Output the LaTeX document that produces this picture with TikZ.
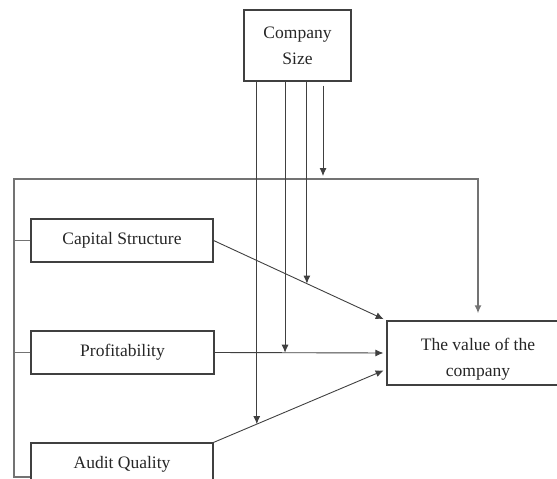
\documentclass[tikz,border=0pt]{standalone}
\usepackage{fontspec}
\setmainfont{Liberation Serif}
\usetikzlibrary{calc,arrows.meta}

\tikzset{
	varbox/.style={draw=black!75, line width=1.2pt, text=black!85, align=center, inner sep=0pt, font=\fontsize{17.5}{26}\selectfont},
	link/.style={draw=black!75, line width=0.9pt, -{Latex[length=8pt,width=7pt]}},
	frame/.style={draw=black!55, line width=1.8pt},
}

\begin{document}
\begin{tikzpicture}[x=1pt,y=-1pt]
				\useasboundingbox (0,0) rectangle (557,479);
				\clip (0,0) rectangle (557,479);
				% variables
				\node[varbox, minimum width=107pt, minimum height=71pt] (size) at (297.5,45.5) {Company\\Size};
				\node[varbox, minimum width=182pt, minimum height=43pt] (cap) at (122,240.5) {Capital Structure};
				\node[varbox, minimum width=183pt, minimum height=43pt] (prof) at (122.5,352.5) {Profitability};
				\node[varbox, minimum width=182pt, minimum height=43pt] (audit) at (122,464.5) {Audit Quality};
				\node[varbox, minimum width=182pt, minimum height=64pt] (value) at (478,353) {\rule{0pt}{24pt}The value of the\\company};
				% frame round the independent variables
				\coordinate (corner) at (14,477);
				\coordinate (topleft) at (14,179);
				\draw[frame] (cap.west) -- (cap.west -| corner);
				\draw[frame] (prof.west) -- (prof.west -| corner);
				\draw[frame, -{Latex[length=8pt,width=7pt]}, shorten >=7pt] (audit.west |- corner) -- (corner) -- (topleft) -| (value.north);
				% direct effects
				\coordinate (v3) at ($(value.west)!0.5!(value.south west)$);
				\draw[link, shorten >=3pt] (cap.east) -- (value.north west);
				\draw[link, shorten >=3pt] (prof.east) -- (value.west);
				\draw[link, shorten >=3pt] (audit.north east) -- (v3);
				% moderation by company size
				\coordinate (m1) at ($(cap.east)!0.54!(value.north west)$);
				\coordinate (m2) at ($(prof.east)!0.41!(value.west)$);
				\coordinate (m3) at ($(audit.north east)!0.25!(v3)$);
				\coordinate (m4) at (323,179);
				\draw[link] (size.south -| m1) -- (m1);
				\draw[link] (size.south -| m2) -- (m2);
				\draw[link] (size.south -| m3) -- (m3);
				\draw[link, shorten >=3pt] ($(size.south -| m4)+(0,4)$) -- (m4);
			\end{tikzpicture}
\end{document}
